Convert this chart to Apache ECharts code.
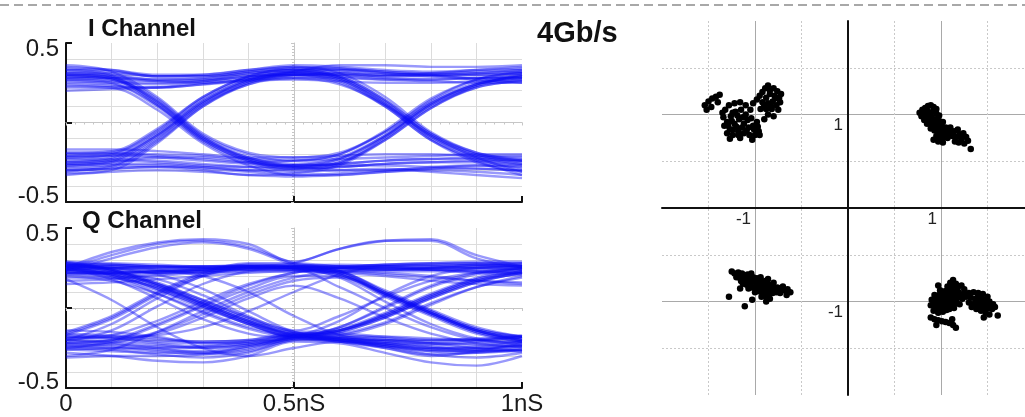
<!DOCTYPE html>
<html>
<head>
<meta charset="utf-8">
<title>4Gb/s I/Q eye diagrams and constellation</title>
<script src="https://cdn.jsdelivr.net/npm/echarts@6/dist/echarts.min.js"></script>
<style>
  html, body { margin: 0; padding: 0; background: #ffffff; }
  #chart { width: 1025px; height: 417px; }
</style>
</head>
<body>
<div id="chart"></div>
<script>
// Sample instants of each captured trace (ns)
const TIME_NS = [0, 0.1, 0.2, 0.3, 0.4, 0.5, 0.6, 0.7, 0.8, 0.9, 1.0];

// I channel traces (V), one row per captured waveform
const I_TRACES = [
  [0.30, 0.29, 0.27, 0.28, 0.31, 0.33, 0.32, 0.30, 0.30, 0.31, 0.32],
  [0.26, 0.25, 0.24, 0.26, 0.29, 0.31, 0.30, 0.28, 0.27, 0.28, 0.29],
  [0.34, 0.33, 0.30, 0.30, 0.33, 0.36, 0.35, 0.33, 0.32, 0.33, 0.34],
  [0.22, 0.22, 0.22, 0.24, 0.26, 0.27, 0.26, 0.25, 0.25, 0.26, 0.27],
  [0.28, 0.28, 0.26, 0.25, 0.27, 0.30, 0.31, 0.30, 0.31, 0.33, 0.35],
  [0.31, 0.31, 0.29, 0.30, 0.33, 0.35, 0.34, 0.31, 0.29, 0.28, 0.28],
  [0.33, 0.32, 0.29, 0.29, 0.32, 0.34, 0.33, 0.31, 0.30, 0.30, 0.31],
  [0.20, 0.21, 0.22, 0.25, 0.28, 0.30, 0.29, 0.27, 0.26, 0.25, 0.25],
  [0.31, 0.30, 0.27, 0.27, 0.30, 0.32, 0.28, 0.13, -0.09, -0.21, -0.26],
  [0.27, 0.26, 0.25, 0.26, 0.29, 0.30, 0.25, 0.10, -0.11, -0.23, -0.29],
  [0.35, 0.33, 0.29, 0.29, 0.32, 0.35, 0.31, 0.16, -0.06, -0.19, -0.24],
  [0.24, 0.23, 0.22, 0.24, 0.27, 0.28, 0.24, 0.11, -0.08, -0.22, -0.31],
  [0.29, 0.28, 0.26, 0.27, 0.31, 0.33, 0.29, 0.14, -0.07, -0.20, -0.25],
  [0.29, 0.27, 0.12, -0.10, -0.22, -0.26, -0.22, -0.08, 0.12, 0.24, 0.28],
  [0.33, 0.30, 0.15, -0.08, -0.20, -0.24, -0.20, -0.06, 0.14, 0.27, 0.31],
  [0.25, 0.24, 0.10, -0.12, -0.25, -0.30, -0.26, -0.10, 0.10, 0.22, 0.26],
  [0.30, 0.28, 0.13, -0.09, -0.23, -0.28, -0.25, -0.11, 0.09, 0.23, 0.30],
  [0.27, 0.25, 0.11, -0.11, -0.24, -0.28, -0.23, -0.09, 0.11, 0.24, 0.29],
  [0.28, 0.27, 0.11, -0.11, -0.24, -0.29, -0.28, -0.26, -0.25, -0.24, -0.24],
  [0.32, 0.29, 0.14, -0.09, -0.22, -0.27, -0.27, -0.27, -0.28, -0.29, -0.30],
  [0.23, 0.22, 0.08, -0.13, -0.27, -0.33, -0.33, -0.31, -0.29, -0.27, -0.27],
  [0.36, 0.32, 0.16, -0.07, -0.19, -0.22, -0.21, -0.20, -0.20, -0.21, -0.21],
  [0.30, 0.28, 0.13, -0.10, -0.23, -0.27, -0.26, -0.24, -0.23, -0.23, -0.24],
  [-0.24, -0.22, -0.08, 0.13, 0.26, 0.31, 0.31, 0.29, 0.29, 0.30, 0.31],
  [-0.20, -0.19, -0.05, 0.16, 0.29, 0.34, 0.34, 0.32, 0.31, 0.32, 0.33],
  [-0.29, -0.27, -0.11, 0.11, 0.24, 0.28, 0.28, 0.27, 0.27, 0.28, 0.28],
  [-0.32, -0.30, -0.13, 0.10, 0.25, 0.32, 0.36, 0.36, 0.35, 0.35, 0.36],
  [-0.22, -0.21, -0.07, 0.14, 0.27, 0.32, 0.33, 0.32, 0.30, 0.27, 0.25],
  [-0.26, -0.24, -0.09, 0.12, 0.25, 0.30, 0.30, 0.29, 0.30, 0.31, 0.33],
  [-0.25, -0.23, -0.08, 0.13, 0.27, 0.32, 0.28, 0.12, -0.09, -0.22, -0.27],
  [-0.19, -0.18, -0.04, 0.16, 0.29, 0.33, 0.29, 0.14, -0.07, -0.19, -0.23],
  [-0.30, -0.28, -0.12, 0.10, 0.24, 0.29, 0.26, 0.10, -0.11, -0.25, -0.31],
  [-0.27, -0.25, -0.10, 0.12, 0.26, 0.30, 0.27, 0.11, -0.10, -0.24, -0.33],
  [-0.22, -0.20, -0.06, 0.15, 0.28, 0.31, 0.27, 0.12, -0.08, -0.20, -0.24],
  [-0.25, -0.24, -0.25, -0.27, -0.28, -0.27, -0.23, -0.08, 0.12, 0.24, 0.29],
  [-0.21, -0.20, -0.21, -0.23, -0.25, -0.24, -0.20, -0.05, 0.15, 0.27, 0.32],
  [-0.31, -0.29, -0.28, -0.30, -0.33, -0.32, -0.27, -0.11, 0.09, 0.22, 0.26],
  [-0.17, -0.17, -0.18, -0.20, -0.22, -0.22, -0.19, -0.06, 0.13, 0.25, 0.30],
  [-0.27, -0.26, -0.26, -0.28, -0.30, -0.29, -0.25, -0.09, 0.11, 0.23, 0.27],
  [-0.23, -0.23, -0.24, -0.26, -0.28, -0.29, -0.28, -0.26, -0.25, -0.25, -0.26],
  [-0.28, -0.27, -0.27, -0.29, -0.31, -0.33, -0.32, -0.30, -0.29, -0.29, -0.30],
  [-0.19, -0.19, -0.20, -0.21, -0.23, -0.24, -0.23, -0.22, -0.21, -0.20, -0.20],
  [-0.33, -0.31, -0.30, -0.31, -0.33, -0.34, -0.33, -0.31, -0.30, -0.31, -0.33],
  [-0.26, -0.25, -0.22, -0.22, -0.25, -0.28, -0.30, -0.30, -0.28, -0.27, -0.28],
  [-0.21, -0.21, -0.22, -0.24, -0.26, -0.27, -0.26, -0.24, -0.23, -0.22, -0.22],
  [-0.30, -0.29, -0.28, -0.28, -0.30, -0.31, -0.30, -0.29, -0.31, -0.33, -0.35]
];

// Q channel traces (V)
const Q_TRACES = [
  [0.25, 0.35, 0.41, 0.43, 0.40, 0.29, 0.37, 0.42, 0.43, 0.33, 0.26],
  [0.24, 0.33, 0.40, 0.42, 0.38, 0.28, 0.26, 0.25, 0.25, 0.26, 0.26],
  [0.26, 0.26, 0.25, 0.25, 0.26, 0.28, 0.37, 0.42, 0.42, 0.31, 0.25],
  [0.23, 0.31, 0.38, 0.41, 0.37, 0.27, 0.23, 0.10, -0.02, -0.13, -0.18],
  [0.27, 0.27, 0.26, 0.25, 0.26, 0.26, 0.26, 0.27, 0.27, 0.28, 0.28],
  [0.22, 0.22, 0.23, 0.24, 0.25, 0.25, 0.24, 0.23, 0.23, 0.23, 0.22],
  [0.29, 0.28, 0.27, 0.26, 0.26, 0.25, 0.26, 0.27, 0.28, 0.29, 0.29],
  [0.19, 0.19, 0.21, 0.23, 0.24, 0.24, 0.23, 0.21, 0.19, 0.17, 0.16],
  [0.25, 0.24, 0.22, 0.22, 0.24, 0.26, 0.27, 0.26, 0.24, 0.22, 0.21],
  [0.26, 0.25, 0.23, 0.23, 0.25, 0.26, 0.25, 0.24, 0.25, 0.27, 0.28],
  [0.21, 0.21, 0.22, 0.24, 0.26, 0.26, 0.25, 0.24, 0.24, 0.25, 0.26],
  [0.17, 0.18, 0.20, 0.22, 0.23, 0.23, 0.22, 0.20, 0.17, 0.15, 0.14],
  [0.15, 0.16, 0.18, 0.20, 0.22, 0.23, 0.23, 0.22, 0.20, 0.17, 0.15],
  [0.26, 0.22, 0.13, 0.02, -0.09, -0.17, -0.20, -0.22, -0.23, -0.22, -0.21],
  [0.28, 0.24, 0.15, 0.04, -0.07, -0.16, -0.21, -0.25, -0.29, -0.28, -0.25],
  [0.23, 0.20, 0.11, 0.00, -0.10, -0.18, -0.19, -0.20, -0.20, -0.19, -0.18],
  [0.25, 0.18, 0.06, -0.07, -0.16, -0.19, -0.21, -0.24, -0.27, -0.26, -0.24],
  [0.27, 0.24, 0.16, 0.05, -0.06, -0.15, -0.19, -0.21, -0.22, -0.23, -0.24],
  [0.28, 0.23, 0.14, 0.02, -0.09, -0.17, -0.19, -0.20, -0.22, -0.25, -0.27],
  [0.25, 0.21, 0.12, 0.01, -0.10, -0.18, -0.18, -0.18, -0.19, -0.20, -0.21],
  [0.20, 0.17, 0.09, -0.02, -0.12, -0.18, -0.20, -0.23, -0.26, -0.27, -0.27],
  [0.27, 0.23, 0.14, 0.03, -0.08, -0.17, -0.15, -0.06, 0.06, 0.16, 0.22],
  [0.24, 0.21, 0.12, 0.01, -0.10, -0.18, -0.12, 0.01, 0.14, 0.22, 0.25],
  [0.26, 0.20, 0.09, -0.03, -0.13, -0.18, -0.17, -0.10, 0.02, 0.13, 0.20],
  [0.22, 0.21, 0.15, 0.05, -0.06, -0.16, -0.14, -0.04, 0.08, 0.18, 0.23],
  [0.29, 0.24, 0.15, 0.03, -0.08, -0.16, -0.14, -0.05, 0.07, 0.17, 0.23],
  [0.21, 0.19, 0.13, 0.03, -0.08, -0.15, -0.13, -0.03, 0.09, 0.19, 0.25],
  [0.26, 0.25, 0.24, 0.25, 0.26, 0.25, 0.22, 0.09, -0.03, -0.14, -0.19],
  [0.28, 0.27, 0.26, 0.26, 0.27, 0.26, 0.23, 0.11, -0.01, -0.12, -0.18],
  [0.22, 0.22, 0.23, 0.24, 0.25, 0.24, 0.20, 0.07, -0.05, -0.16, -0.21],
  [0.24, 0.23, 0.22, 0.23, 0.25, 0.25, 0.19, 0.04, -0.10, -0.19, -0.23],
  [0.25, 0.25, 0.25, 0.26, 0.26, 0.25, 0.21, 0.08, -0.04, -0.15, -0.20],
  [0.23, 0.22, 0.23, 0.24, 0.25, 0.25, 0.23, 0.10, -0.02, -0.13, -0.18],
  [0.27, 0.27, 0.26, 0.26, 0.26, 0.25, 0.21, 0.09, -0.03, -0.14, -0.20],
  [-0.20, -0.10, 0.06, 0.20, 0.25, 0.26, 0.25, 0.24, 0.25, 0.26, 0.27],
  [-0.22, -0.20, -0.10, 0.02, 0.14, 0.22, 0.25, 0.26, 0.26, 0.27, 0.26],
  [-0.17, -0.07, 0.08, 0.20, 0.26, 0.25, 0.22, 0.09, -0.03, -0.14, -0.20],
  [-0.25, -0.21, -0.11, 0.01, 0.12, 0.20, 0.20, 0.08, -0.04, -0.15, -0.21],
  [-0.15, -0.05, 0.10, 0.22, 0.28, 0.28, 0.26, 0.25, 0.24, 0.24, 0.24],
  [-0.21, -0.14, 0.01, 0.15, 0.23, 0.25, 0.25, 0.26, 0.27, 0.27, 0.26],
  [-0.16, -0.06, 0.09, 0.21, 0.27, 0.27, 0.25, 0.25, 0.25, 0.25, 0.24],
  [-0.19, -0.17, -0.08, 0.04, 0.15, 0.22, 0.25, 0.27, 0.28, 0.28, 0.27],
  [-0.30, -0.26, -0.15, -0.02, 0.10, 0.19, 0.23, 0.24, 0.24, 0.23, 0.22],
  [-0.24, -0.22, -0.15, -0.04, 0.08, 0.17, 0.19, 0.09, -0.03, -0.14, -0.20],
  [-0.20, -0.22, -0.25, -0.28, -0.26, -0.19, -0.20, -0.25, -0.30, -0.27, -0.22],
  [-0.28, -0.30, -0.33, -0.34, -0.30, -0.21, -0.22, -0.28, -0.34, -0.36, -0.30],
  [-0.16, -0.17, -0.19, -0.21, -0.20, -0.17, -0.18, -0.20, -0.22, -0.21, -0.18],
  [-0.24, -0.25, -0.27, -0.29, -0.27, -0.20, -0.19, -0.22, -0.25, -0.24, -0.21],
  [-0.18, -0.19, -0.22, -0.24, -0.22, -0.17, -0.19, -0.23, -0.27, -0.28, -0.26],
  [-0.14, -0.15, -0.18, -0.22, -0.22, -0.18, -0.17, -0.19, -0.21, -0.20, -0.17],
  [-0.25, -0.26, -0.29, -0.31, -0.28, -0.20, -0.20, -0.24, -0.29, -0.31, -0.28],
  [-0.17, -0.18, -0.20, -0.21, -0.20, -0.16, -0.16, -0.18, -0.20, -0.20, -0.18],
  [-0.23, -0.24, -0.26, -0.27, -0.24, -0.18, -0.15, -0.06, 0.06, 0.16, 0.22],
  [-0.31, -0.30, -0.30, -0.29, -0.25, -0.19, -0.12, 0.00, 0.13, 0.21, 0.25],
  [-0.19, -0.19, -0.21, -0.22, -0.21, -0.17, -0.16, -0.09, 0.03, 0.13, 0.19],
  [-0.26, -0.27, -0.28, -0.28, -0.24, -0.19, -0.14, -0.04, 0.08, 0.18, 0.23],
  [-0.20, -0.21, -0.23, -0.25, -0.23, -0.18, -0.14, -0.05, 0.07, 0.17, 0.21],
  [-0.22, -0.23, -0.24, -0.25, -0.23, -0.19, -0.21, -0.24, -0.26, -0.25, -0.23],
  [-0.22, -0.20, -0.16, -0.06, 0.06, 0.14, 0.06, -0.06, -0.16, -0.22, -0.24],
  [0.24, 0.22, 0.18, 0.08, -0.05, -0.14, -0.05, 0.07, 0.17, 0.22, 0.24],
  [0.18, 0.05, -0.12, -0.25, -0.30, -0.25, -0.21, -0.22, -0.25, -0.27, -0.26],
  [0.27, 0.25, 0.21, 0.12, -0.02, -0.15, -0.20, -0.23, -0.25, -0.25, -0.24],
  [-0.18, -0.18, -0.17, -0.12, -0.02, 0.10, 0.21, 0.26, 0.26, 0.25, 0.25],
  [0.24, 0.25, 0.26, 0.25, 0.24, 0.24, 0.13, 0.00, -0.12, -0.20, -0.22],
  [-0.26, -0.25, -0.25, -0.24, -0.21, -0.18, -0.08, 0.08, 0.20, 0.25, 0.26],
  [0.25, 0.26, 0.24, 0.20, 0.10, -0.05, -0.17, -0.21, -0.24, -0.26, -0.26]
];

// Received QPSK symbols [I, Q], grouped by quadrant
const SYMBOLS_UPPER_LEFT = [
  [-1.54, 1.10], [-1.50, 1.14], [-1.46, 1.17], [-1.42, 1.19], [-1.38, 1.21], [-1.40, 1.13], [-1.47, 1.08], [-1.52, 1.05],
  [-1.32, 1.05], [-1.28, 1.10], [-1.22, 1.12], [-1.16, 1.13], [-1.10, 1.10], [-1.05, 1.05], [-1.34, 0.97], [-1.30, 0.92],
  [-1.26, 0.98], [-1.21, 1.03], [-1.15, 1.05], [-1.10, 1.00], [-1.04, 0.96], [-0.98, 0.92], [-1.33, 0.88], [-1.27, 0.84],
  [-1.22, 0.90], [-1.17, 0.95], [-1.12, 0.90], [-1.07, 0.86], [-1.01, 0.84], [-0.96, 0.82], [-1.30, 0.80], [-1.24, 0.78],
  [-1.18, 0.82], [-1.12, 0.80], [-1.06, 0.78], [-1.00, 0.78], [-0.95, 0.78], [-1.27, 0.74], [-1.16, 0.75], [-1.03, 0.73],
  [-1.20, 0.87], [-1.14, 0.86], [-1.25, 0.93], [-1.24, 1.02], [-1.19, 0.99], [-1.13, 0.97], [-1.08, 0.94], [-1.29, 0.88],
  [-1.24, 0.84], [-1.09, 0.83], [-1.02, 0.88], [-1.18, 0.78], [-1.35, 1.02], [-0.97, 0.87],
  [-1.02, 1.12], [-0.98, 1.16], [-0.95, 1.20], [-0.92, 1.24], [-0.89, 1.28], [-0.86, 1.31], [-0.80, 1.28], [-0.76, 1.25],
  [-0.72, 1.22], [-0.74, 1.18], [-0.79, 1.20], [-0.84, 1.22], [-0.88, 1.18], [-0.92, 1.13], [-0.86, 1.12], [-0.81, 1.14],
  [-0.77, 1.10], [-0.82, 1.06], [-0.88, 1.06], [-0.94, 1.06], [-0.86, 1.00], [-0.80, 0.98], [-0.90, 0.95], [-0.75, 1.05],
  [-0.73, 1.13], [-0.83, 1.09], [-0.90, 1.10], [-0.78, 1.17], [-0.84, 1.26]
];
const SYMBOLS_UPPER_RIGHT = [
  [0.77, 1.02], [0.80, 1.05], [0.83, 1.07], [0.86, 1.09], [0.89, 1.10], [0.92, 1.08], [0.95, 1.06], [0.79, 0.98],
  [0.83, 1.00], [0.87, 1.02], [0.91, 1.03], [0.95, 1.01], [0.98, 0.99], [0.82, 0.94], [0.86, 0.96], [0.90, 0.97],
  [0.94, 0.95], [0.98, 0.93], [1.02, 0.92], [0.85, 0.90], [0.89, 0.91], [0.93, 0.89], [0.97, 0.88], [1.01, 0.87],
  [1.05, 0.86], [0.89, 0.85], [0.93, 0.83], [0.97, 0.82], [1.01, 0.81], [1.05, 0.80], [1.09, 0.82], [0.95, 0.77],
  [0.99, 0.75], [1.03, 0.76], [1.07, 0.75], [0.97, 0.71], [1.02, 0.70], [1.10, 0.86], [1.14, 0.82], [1.18, 0.84],
  [1.12, 0.77], [1.16, 0.76], [1.20, 0.79], [1.24, 0.80], [1.22, 0.74], [1.27, 0.76], [1.19, 0.70], [1.25, 0.69],
  [1.29, 0.72], [1.15, 0.71], [1.32, 0.63], [0.92, 0.73], [0.85, 1.04], [0.88, 0.99], [0.92, 0.93], [0.96, 0.91],
  [0.91, 0.87], [0.95, 0.85], [0.99, 0.84], [1.03, 0.84], [0.99, 0.79], [1.08, 0.79], [1.13, 0.80], [1.21, 0.76],
  [0.84, 0.97], [0.88, 0.94]
];
const SYMBOLS_LOWER_LEFT = [
  [-1.25, -0.68], [-1.22, -0.70], [-1.18, -0.69], [-1.14, -0.70], [-1.20, -0.74], [-1.16, -0.75], [-1.12, -0.73], [-1.08, -0.71],
  [-1.04, -0.70], [-1.10, -0.77], [-1.06, -0.76], [-1.02, -0.74], [-0.98, -0.75], [-0.94, -0.74], [-1.13, -0.81], [-1.09, -0.82],
  [-1.05, -0.80], [-1.01, -0.79], [-0.97, -0.80], [-0.93, -0.79], [-0.89, -0.78], [-1.07, -0.86], [-1.03, -0.85], [-0.99, -0.84],
  [-0.95, -0.85], [-0.91, -0.84], [-0.87, -0.83], [-0.83, -0.82], [-1.00, -0.90], [-0.96, -0.89], [-0.92, -0.90], [-0.88, -0.88],
  [-0.84, -0.87], [-0.80, -0.86], [-0.76, -0.85], [-0.72, -0.86], [-0.93, -0.95], [-0.89, -0.94], [-0.85, -0.92], [-0.81, -0.91],
  [-0.77, -0.90], [-0.73, -0.91], [-0.69, -0.88], [-0.65, -0.87], [-0.62, -0.90], [-0.66, -0.93], [-0.70, -0.84], [-0.88, -1.00],
  [-0.84, -0.97], [-1.16, -0.86], [-1.28, -0.95], [-1.11, -1.05], [-1.03, -0.98], [-0.80, -0.80], [-0.86, -0.76],
  [-1.19, -0.72], [-1.15, -0.78], [-1.11, -0.79], [-1.07, -0.78], [-1.03, -0.77], [-0.99, -0.78], [-0.95, -0.82], [-0.91, -0.81],
  [-0.87, -0.80], [-0.97, -0.87], [-0.93, -0.87], [-0.89, -0.86], [-0.85, -0.85], [-0.81, -0.84], [-0.78, -0.88], [-0.74, -0.88],
  [-0.90, -0.91], [-0.86, -0.90]
];
const SYMBOLS_LOWER_RIGHT = [
  [1.13, -0.77], [1.10, -0.80], [1.16, -0.81], [1.07, -0.84], [1.12, -0.84], [1.18, -0.85], [1.22, -0.83], [1.25, -0.87],
  [0.99, -0.88], [1.04, -0.89], [1.09, -0.88], [1.14, -0.89], [1.19, -0.90], [1.24, -0.92], [0.93, -0.93], [0.98, -0.93],
  [1.03, -0.94], [1.08, -0.93], [1.13, -0.95], [1.18, -0.96], [1.23, -0.97], [1.27, -0.95], [0.90, -0.98], [0.95, -0.99],
  [1.00, -0.98], [1.05, -1.00], [1.10, -1.01], [1.15, -1.02], [1.20, -1.03], [0.89, -1.04], [0.94, -1.05], [0.99, -1.04],
  [1.04, -1.06], [1.09, -1.08], [1.14, -1.07], [0.92, -1.10], [0.97, -1.12], [1.02, -1.11], [0.97, -0.83],
  [1.11, -0.91], [1.16, -0.92], [1.21, -0.94], [1.06, -0.91], [1.01, -0.91], [0.96, -0.96], [1.01, -0.96], [1.06, -0.97],
  [1.11, -0.98], [1.16, -0.99], [0.93, -1.02], [0.98, -1.01], [1.03, -1.03], [1.08, -1.04], [1.12, -1.05], [0.96, -1.08],
  [1.01, -1.08], [1.06, -1.09],
  [0.89, -1.17], [0.93, -1.19], [0.97, -1.20], [1.01, -1.21], [1.05, -1.22], [1.09, -1.23], [1.13, -1.25], [1.16, -1.28],
  [1.12, -1.19], [0.95, -1.25],
  [1.30, -0.91], [1.35, -0.90], [1.40, -0.91], [1.45, -0.92], [1.50, -0.95], [1.32, -0.96], [1.37, -0.97], [1.42, -0.96],
  [1.47, -0.98], [1.52, -1.00], [1.56, -1.03], [1.30, -1.01], [1.35, -1.03], [1.40, -1.02], [1.45, -1.04], [1.50, -1.05],
  [1.55, -1.08], [1.58, -1.06], [1.38, -1.08], [1.43, -1.10], [1.48, -1.12], [1.52, -1.14], [1.46, -1.17], [1.61, -1.15],
  [1.33, -1.06], [1.42, -0.99], [1.47, -1.01], [1.37, -1.00], [1.52, -1.07], [1.42, -1.06], [1.47, -1.08], [1.40, -0.94]
];

// Tick labels
const EYE_X_LABELS = ['0', '0.5nS', '1nS'];      // at 0, 0.5, 1 ns
const EYE_Y_LABELS = ['-0.5', '', '0.5'];        // at -0.5, 0, 0.5 V
const IQ_LABELS = { '-1': '-1', '1': '1' };

const FONT = '"Liberation Sans", Arial, Helvetica, sans-serif';
const TRACE_COLOR = 'rgba(12, 12, 245, 0.42)';
const GRID_COLOR = '#dcdcdc';
const GRATICULE_COLOR = '#c6c6c6';

// Constellation plot area (pixels); the I and Q axes cross at its centre
const IQ_LEFT = 662, IQ_TOP = 21, IQ_WIDTH = 372, IQ_HEIGHT = 374;

const chart = echarts.init(document.getElementById('chart'), null, { renderer: 'canvas' });

// Main axes of one eye-diagram panel
function eyeXAxis(gridIndex, showLabels) {
  return {
    type: 'value', gridIndex: gridIndex, min: 0, max: 1, interval: 0.5,
    axisLine: { onZero: false, lineStyle: { color: '#111', width: 2 } },
    axisTick: { show: true, inside: true, length: 6, lineStyle: { color: '#111', width: 2 } },
    axisLabel: {
      show: showLabels, margin: 4, color: '#1a1a1a', fontFamily: FONT, fontSize: 24,
      formatter: v => EYE_X_LABELS[Math.round(v * 2)]
    },
    splitLine: { show: true, showMinLine: false, showMaxLine: false, lineStyle: { color: GRID_COLOR } },
    minorTick: { show: false, splitNumber: 5 },
    minorSplitLine: { show: true, lineStyle: { color: GRID_COLOR } }
  };
}
function eyeYAxis(gridIndex) {
  return {
    type: 'value', gridIndex: gridIndex, min: -0.5, max: 0.5, interval: 0.5,
    axisLine: { onZero: false, lineStyle: { color: '#111', width: 2 } },
    axisTick: { show: true, inside: true, length: 6, lineStyle: { color: '#111', width: 2 } },
    axisLabel: {
      margin: 7, color: '#1a1a1a', fontFamily: FONT, fontSize: 24,
      formatter: v => {
        const s = EYE_Y_LABELS[Math.round(v * 2) + 1];
        if (!s) return '';
        return v > 0 ? '{hi|' + s + '}' : '{lo|' + s + '}';
      },
      rich: {
        hi: { fontFamily: FONT, fontSize: 24, color: '#1a1a1a', padding: [13, 0, 0, 0] },
        lo: { fontFamily: FONT, fontSize: 24, color: '#1a1a1a', padding: [0, 0, 11, 0] }
      }
    },
    splitLine: { show: false },
    minorTick: { show: false, splitNumber: 5 },
    minorSplitLine: { show: true, lineStyle: { color: GRID_COLOR } }
  };
}
// Centre graticule lines with fine ticks (horizontal at 0 V, vertical at 0.5 ns)
function graticuleX(gridIndex, yIndex) {
  return {
    type: 'value', gridIndex: gridIndex, min: 0, max: 1, interval: 0.1, position: 'bottom',
    axisLine: { onZero: true, onZeroAxisIndex: yIndex, lineStyle: { color: GRATICULE_COLOR, width: 1 } },
    axisTick: { show: true, length: 3, lineStyle: { color: GRATICULE_COLOR } },
    minorTick: { show: true, splitNumber: 5, length: 2, lineStyle: { color: GRATICULE_COLOR } },
    axisLabel: { show: false }, splitLine: { show: false }
  };
}
function graticuleY(gridIndex) {
  return {
    type: 'value', gridIndex: gridIndex, min: -0.5, max: 0.5, interval: 0.1, position: 'left', offset: -228,
    axisLine: { onZero: false, lineStyle: { color: GRATICULE_COLOR, width: 1 } },
    axisTick: { show: true, length: 3, lineStyle: { color: GRATICULE_COLOR } },
    minorTick: { show: true, splitNumber: 5, length: 2, lineStyle: { color: GRATICULE_COLOR } },
    axisLabel: { show: false }, splitLine: { show: false }
  };
}
// I/Q axes: shifted into the middle of the plot so their labels follow the axis lines
function iqAxis(isX) {
  return {
    type: 'value', gridIndex: 2, min: -2, max: 2, interval: 1,
    position: isX ? 'bottom' : 'left',
    offset: isX ? -IQ_HEIGHT / 2 : -IQ_WIDTH / 2,
    axisLine: { onZero: false, lineStyle: { color: '#111', width: 2 } },
    axisTick: { show: false },
    axisLabel: {
      color: '#222', fontFamily: FONT, fontSize: 17,
      margin: isX ? 3 : 5,
      align: 'right',
      formatter: v => {
        const s = IQ_LABELS[String(v)];
        if (!s) return '';
        return isX ? '{x|' + s + '}' : '{y|' + s + '}';
      },
      rich: {
        x: { fontFamily: FONT, fontSize: 17, color: '#222', padding: [0, 4, 0, 0] },
        y: { fontFamily: FONT, fontSize: 17, color: '#222', padding: [21, 0, 0, 0] }
      }
    },
    splitLine: { show: true, showMinLine: false, showMaxLine: false, lineStyle: { color: '#a9a9a9', width: 1 } },
    minorTick: { show: false, splitNumber: 2 },
    minorSplitLine: { show: true, lineStyle: { color: '#c9c9c9', width: 1, type: [2, 2] } }
  };
}

function traceSeries(traces, axisIndex) {
  return traces.map(tr => ({
    type: 'line', xAxisIndex: axisIndex, yAxisIndex: axisIndex,
    data: TIME_NS.map((t, i) => [t, tr[i]]),
    showSymbol: false, smooth: 0.35, silent: true,
    lineStyle: { color: TRACE_COLOR, width: 2.4 },
    z: 3
  }));
}
function symbolSeries(points) {
  return {
    type: 'scatter', xAxisIndex: 4, yAxisIndex: 4, data: points,
    symbol: 'circle', symbolSize: 6.5, silent: true,
    itemStyle: { color: '#000', opacity: 1 }, z: 4
  };
}

const option = {
  backgroundColor: '#ffffff',
  animation: false,
  grid: [
    { left: 66, right: 503, top: 43, height: 159, outerBoundsMode: 'none' },
    { left: 66, right: 503, top: 228, height: 160, outerBoundsMode: 'none' },
    { left: IQ_LEFT, top: IQ_TOP, width: IQ_WIDTH, height: IQ_HEIGHT, outerBoundsMode: 'none' }
  ],
  xAxis: [eyeXAxis(0, false), eyeXAxis(1, true), graticuleX(0, 0), graticuleX(1, 1), iqAxis(true)],
  yAxis: [eyeYAxis(0), eyeYAxis(1), graticuleY(0), graticuleY(1), iqAxis(false)],
  series: [
    ...traceSeries(I_TRACES, 0),
    ...traceSeries(Q_TRACES, 1),
    symbolSeries(SYMBOLS_UPPER_LEFT),
    symbolSeries(SYMBOLS_UPPER_RIGHT),
    symbolSeries(SYMBOLS_LOWER_LEFT),
    symbolSeries(SYMBOLS_LOWER_RIGHT)
  ],
  graphic: [
    {
      type: 'line', silent: true,
      shape: { x1: 0, y1: 5, x2: 1025, y2: 5 },
      style: { stroke: '#a8a8a8', lineWidth: 2, lineDash: [9, 5] }
    },
    {
      type: 'text', x: 88, y: 29, silent: true,
      style: { text: 'I Channel', font: 'bold 24px ' + FONT, fill: '#111', verticalAlign: 'middle' }
    },
    {
      type: 'text', x: 82, y: 221, silent: true,
      style: { text: 'Q Channel', font: 'bold 24px ' + FONT, fill: '#111', verticalAlign: 'middle' }
    },
    {
      type: 'text', x: 537, y: 34, silent: true,
      style: { text: '4Gb/s', font: 'bold 29px ' + FONT, fill: '#111', verticalAlign: 'middle' }
    }
  ]
};

chart.setOption(option);
</script>
</body>
</html>
